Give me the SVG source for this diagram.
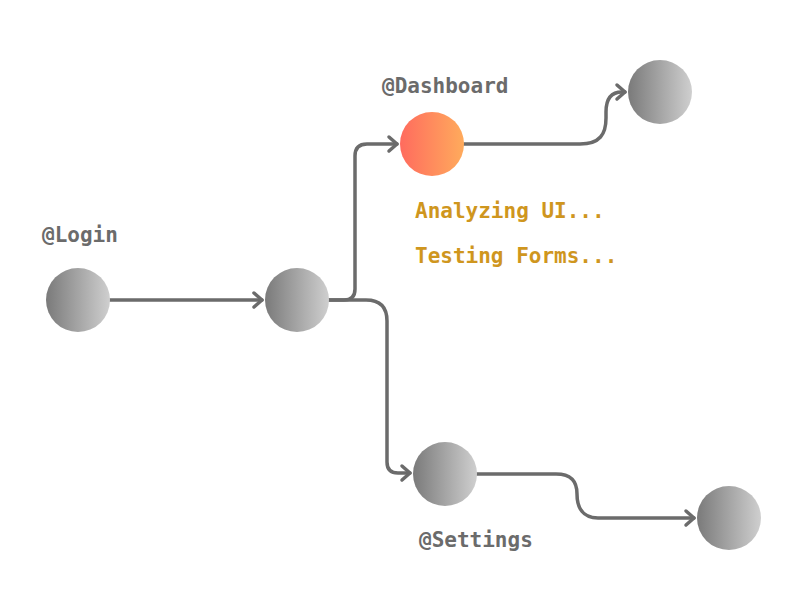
<svg xmlns="http://www.w3.org/2000/svg" width="800" height="600" viewBox="0 0 800 600">
<style>
.edge{fill:none;stroke:#6b6b6b;stroke-width:3.5;stroke-linecap:round;stroke-linejoin:round}
.lbl{font-family:"DejaVu Sans Mono","Liberation Mono",monospace;font-weight:bold;font-size:21px;fill:#6b6b6b}
.status{font-family:"DejaVu Sans Mono","Liberation Mono",monospace;font-weight:bold;font-size:21px;fill:#cf961e}
</style>
<defs>
<linearGradient id="gGray" x1="0" y1="0" x2="1" y2="0">
<stop offset="0" stop-color="#7a7a7a"/>
<stop offset="1" stop-color="#cfcfcf"/>
</linearGradient>
<linearGradient id="gOrange" x1="0" y1="0" x2="1" y2="0">
<stop offset="0" stop-color="#ff6b5e"/>
<stop offset="1" stop-color="#ffab5c"/>
</linearGradient>
<marker id="arr" markerUnits="userSpaceOnUse" markerWidth="20" markerHeight="20" viewBox="-12 -10 20 20" refX="0" refY="0" orient="auto">
<path d="M-8,-7 L0,0 L-8,7" fill="none" stroke="#6b6b6b" stroke-width="3.5" stroke-linecap="round" stroke-linejoin="round"/>
</marker>
</defs>
<rect width="800" height="600" fill="#ffffff"/>
<g id="connectors">
<path class="edge" d="M110,300 H262" marker-end="url(#arr)"/>
<path class="edge" d="M329,300 H344 Q355,300 355,289 V156 Q355,144 367,144 H397" marker-end="url(#arr)"/>
<path class="edge" d="M329,300 H366 Q387,300 387,321 V462 Q387,473 398,473 H410" marker-end="url(#arr)"/>
<path class="edge" d="M464,144 H580 C600,144 606,134 606,118 V112 C606,98 612,92 622,92 H625" marker-end="url(#arr)"/>
<path class="edge" d="M477,474 H556 C572,474 577,482 577,494 C577,508 583,518 598,518 H694" marker-end="url(#arr)"/>
</g>
<g id="login">
<text class="lbl" x="42" y="242">@Login</text>
<circle cx="78" cy="300" r="32" fill="url(#gGray)"/>
</g>
<g id="hub">
<circle cx="297" cy="300" r="32" fill="url(#gGray)"/>
</g>
<g id="dashboard">
<text class="lbl" x="382" y="93">@Dashboard</text>
<circle cx="432" cy="144" r="32" fill="url(#gOrange)"/>
<text class="status" x="415" y="218">Analyzing UI...</text>
<text class="status" x="415" y="263">Testing Forms...</text>
</g>
<g id="dashboard-next">
<circle cx="660" cy="92" r="32" fill="url(#gGray)"/>
</g>
<g id="settings">
<circle cx="445" cy="474" r="32" fill="url(#gGray)"/>
<text class="lbl" x="419" y="547">@Settings</text>
</g>
<g id="settings-next">
<circle cx="729" cy="518" r="32" fill="url(#gGray)"/>
</g>
</svg>
